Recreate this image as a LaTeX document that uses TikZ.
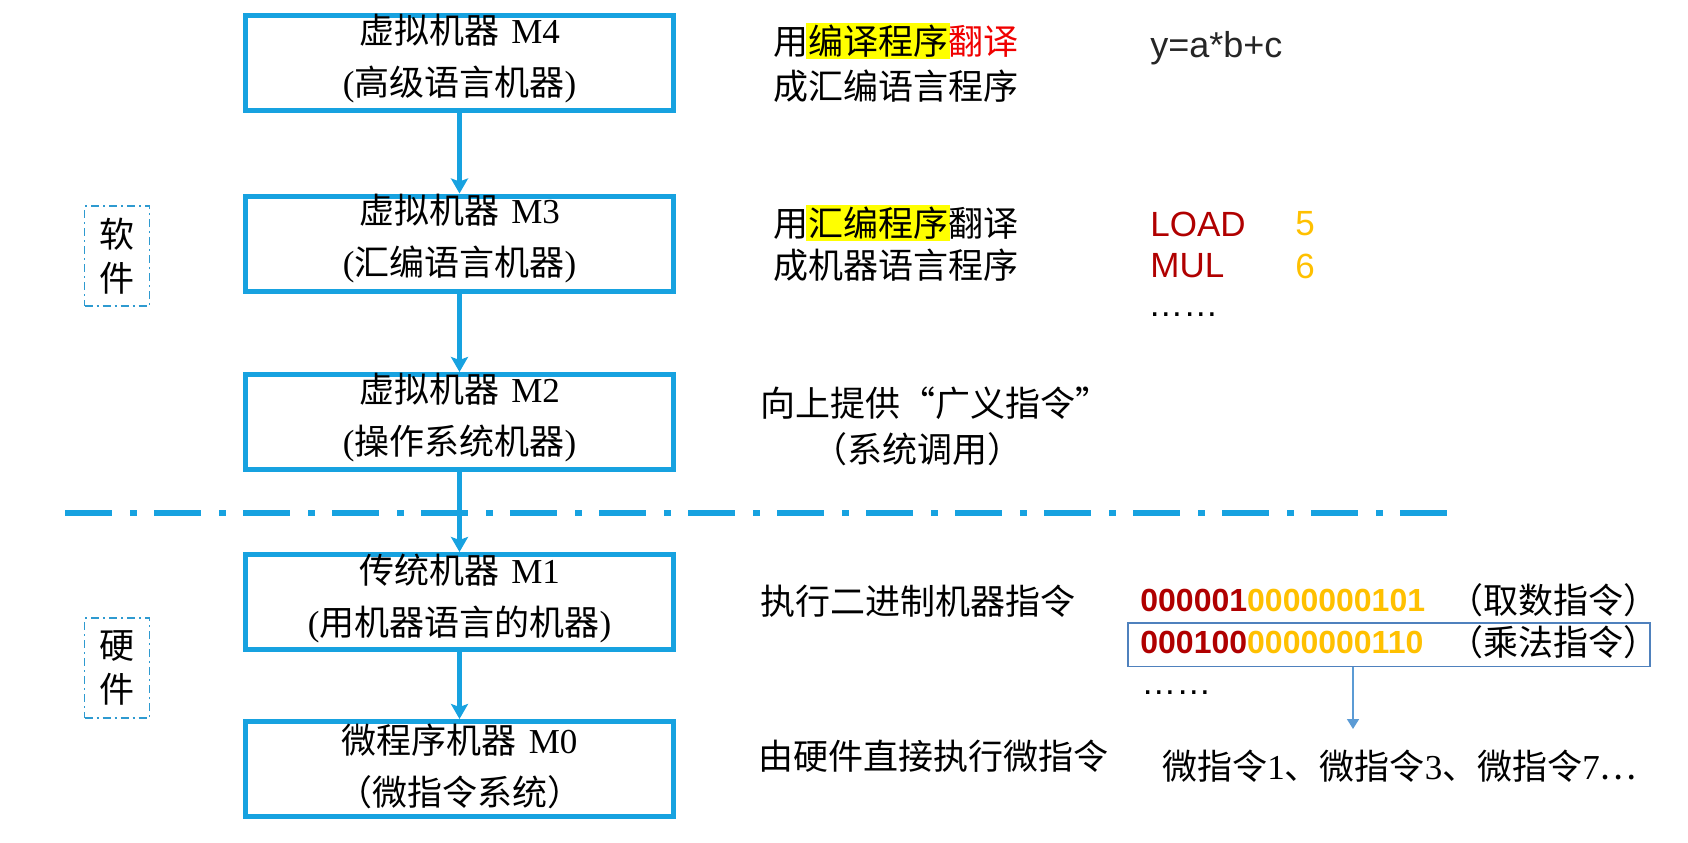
\documentclass[tikz,border=0pt]{standalone}
\usepackage{fontspec}
\setmainfont{Liberation Serif}
\newfontfamily\cjk{Noto Sans CJK SC}
\newfontfamily\arialf{Liberation Sans}
\usetikzlibrary{arrows.meta}
\definecolor{boxblue}{HTML}{17A2E0}
\definecolor{dashblue}{HTML}{2E9AD0}
\definecolor{selblue}{HTML}{4F81BD}
\definecolor{arrblue}{HTML}{5B9BD5}
\definecolor{hlyellow}{HTML}{FFFF00}
\definecolor{hlred}{HTML}{F00000}
\definecolor{dkred}{HTML}{B00000}
\definecolor{gold}{HTML}{FFC000}
\definecolor{txtgray}{HTML}{262626}
\setlength\fboxsep{1pt}
\newcommand\myhl[1]{\kern-1pt\colorbox{hlyellow}{#1}\kern-1pt}
\begin{document}
\begin{tikzpicture}[x=0.5pt,y=-0.5pt,
  mbox/.style={draw=boxblue, line width=2.5pt, minimum width=214pt, minimum height=47.5pt, inner sep=0pt},
  btext/.style={font=\fontsize{17.5}{26}\selectfont, align=center, inner sep=0pt},
  rtext/.style={font=\cjk\fontsize{17.5}{21}\selectfont, inner sep=0pt},
  latin/.style={font=\arialf\fontsize{18}{21}\selectfont, text=txtgray, inner sep=0pt},
  asm/.style={font=\arialf\fontsize{17.5}{21}\selectfont, text=dkred, inner sep=0pt},
  num/.style={font=\arialf\fontsize{17.5}{21}\selectfont, text=gold, inner sep=0pt},
  bin/.style={font=\arialf\bfseries\fontsize{16}{20}\selectfont, inner sep=0pt},
  dotsline/.style={font=\arialf\fontsize{17.5}{21}\selectfont, inner sep=0pt},
  varrow/.style={draw=boxblue, line width=2.5pt, -{Stealth[length=7.5pt, width=8.5pt, inset=1.5pt]}},
  thinarr/.style={draw=arrblue, line width=0.75pt, -{Triangle[length=5pt, width=6pt]}},
  sepline/.style={draw=boxblue, line width=3pt, dash pattern=on 23.5pt off 9pt on 3.5pt off 8.5pt},
  swbox/.style={draw=dashblue, line width=0.9pt, dash pattern=on 4pt off 2pt on 1pt off 2pt, minimum width=32.5pt, minimum height=50pt, align=center, font=\cjk\fontsize{17.5}{22}\selectfont, inner sep=0pt},
  selbox/.style={draw=selblue, line width=0.75pt, minimum width=261pt, minimum height=21.75pt, inner sep=0pt}
]
\useasboundingbox (0,0) rectangle (1688,842);

% separator
\coordinate (sepL) at (65,513);
\coordinate (sepR) at (1448,513);
\draw[sepline] (sepL) -- (sepR);

% machine boxes
\node[mbox] (m4) at (459.5,63) {};
\node[mbox] (m3) at (459.5,243.5) {};
\node[mbox] (m2) at (459.5,422) {};
\node[mbox] (m1) at (459.5,602) {};
\node[mbox] (m0) at (459.5,769) {};

\node[btext] (m4t) at (459.5,59) {{\cjk 虚拟机器}\kern0.35em M4\\({\cjk 高级语言机器})};
\node[btext] (m3t) at (459.5,239) {{\cjk 虚拟机器}\kern0.35em M3\\({\cjk 汇编语言机器})};
\node[btext] (m2t) at (459.5,418) {{\cjk 虚拟机器}\kern0.35em M2\\({\cjk 操作系统机器})};
\node[btext] (m1t) at (459.5,598) {{\cjk 传统机器}\kern0.35em M1\\({\cjk 用机器语言的机器})};
\node[btext] (m0t) at (459.5,766) {{\cjk 微程序机器}\kern0.35em M0\\{\cjk （微指令系统）}};

\draw[varrow] (m4) -- (m3);
\draw[varrow] (m3) -- (m2);
\draw[varrow] (m2) -- (m1);
\draw[varrow] (m1) -- (m0);

% software / hardware labels
\node[swbox] (sw) at (117,256) {软\\件};
\node[swbox] (hw) at (117,668) {硬\\件};

% right column
\node[rtext, anchor=west] (r4a) at (773,41) {用\myhl{编译程序}\textcolor{hlred}{翻译}};
\node[rtext, anchor=west] (r4b) at (773,86) {成汇编语言程序};
\node[latin, anchor=west] (c4) at (1150,48) {y=a*b+c};

\node[rtext, anchor=west] (r3a) at (773,223) {用\myhl{汇编程序}翻译};
\node[rtext, anchor=west] (r3b) at (773,265) {成机器语言程序};
\node[asm, anchor=west] (ld) at (1150,224) {LOAD};
\node[num, anchor=west] (ld5) at (1295,224) {5};
\node[asm, anchor=west] (mul) at (1150,266) {MUL};
\node[num, anchor=west] (mul6) at (1295,266) {6};
\node[dotsline, anchor=west] (d3) at (1148,315) {……};

\node[rtext, anchor=west] (r2a) at (760,403) {向上提供“广义指令”};
\node[rtext] (r2b) at (917,449) {（系统调用）};

\node[rtext, anchor=west] (r1) at (760,601) {执行二进制机器指令};
\node[bin, anchor=west] (b1) at (1140,600) {\textcolor{dkred}{000001}\textcolor{gold}{0000000101}};
\node[rtext] (p1) at (1553,600) {（取数指令）};
\node[bin, anchor=west] (b2) at (1140,642) {\textcolor{dkred}{000100}\textcolor{gold}{0000000110}};
\node[rtext] (p2) at (1553,642) {（乘法指令）};
\node[selbox] (sel) at (1389,644.5) {};
\node[dotsline, anchor=west] (d1) at (1141,693) {……};
\coordinate (mtip) at (1353,729);
\draw[thinarr] (sel.south -| mtip) -- (mtip);

\node[rtext, anchor=west] (r0) at (758,756) {由硬件直接执行微指令};
\node[btext, anchor=west] (micro) at (1162,766) {{\cjk 微指令}1{\cjk 、微指令}3{\cjk 、微指令}7{\cjk …}};
\end{tikzpicture}
\end{document}
